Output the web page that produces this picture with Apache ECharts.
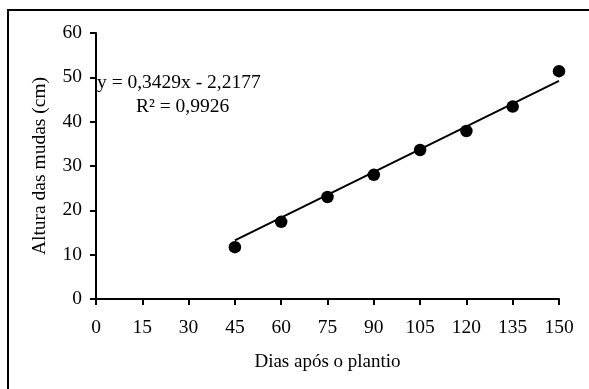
<!DOCTYPE html>
<html>
<head>
<meta charset="utf-8">
<script src="https://cdn.jsdelivr.net/npm/echarts@6/dist/echarts.min.js"></script>
<style>
html,body{margin:0;padding:0;background:#fff;}
#c{width:589px;height:389px;}
</style>
</head>
<body>
<div id="c"></div>
<script>
// Data
const days = [45, 60, 75, 90, 105, 120, 135, 150];
const heights = [11.7, 17.4, 23.0, 28.0, 33.6, 37.9, 43.4, 51.4];
const trendX = [45, 150];
const trendY = [13.21, 49.22];
const xTicks = [0, 15, 30, 45, 60, 75, 90, 105, 120, 135, 150];
const yTicks = [0, 10, 20, 30, 40, 50, 60];
const equationText = 'y = 0,3429x - 2,2177';
const r2Text = 'R² = 0,9926';

const FONT = '"Liberation Serif", "Times New Roman", serif';
const chart = echarts.init(document.getElementById('c'), null, {renderer: 'canvas'});
chart.setOption({
  backgroundColor: '#fff',
  animation: false,
  grid: {left: 96, right: 30, top: 33, bottom: 90},
  xAxis: {
    type: 'value', min: 0, max: 150, interval: 15,
    name: 'Dias após o plantio', nameLocation: 'middle', nameGap: 54,
    nameTextStyle: {fontFamily: FONT, fontSize: 19, color: '#000'},
    axisLine: {show: true, lineStyle: {color: '#000', width: 2}},
    axisTick: {show: true, inside: false, length: 6, lineStyle: {color: '#000', width: 2}},
    axisLabel: {fontFamily: FONT, fontSize: 19.5, color: '#000', margin: 19},
    splitLine: {show: false}
  },
  yAxis: {
    type: 'value', min: 0, max: 60, interval: 10,
    name: 'Altura das mudas (cm)', nameLocation: 'middle', nameGap: 46,
    nameTextStyle: {fontFamily: FONT, fontSize: 19.5, color: '#000'},
    axisLine: {show: true, lineStyle: {color: '#000', width: 2}},
    axisTick: {show: true, inside: false, length: 6, lineStyle: {color: '#000', width: 2}},
    axisLabel: {fontFamily: FONT, fontSize: 19.5, color: '#000', margin: 14},
    splitLine: {show: false}
  },
  graphic: [
    {type: 'rect', shape: {x: 8, y: 10, width: 620, height: 420},
     style: {fill: 'none', stroke: '#000', lineWidth: 2}, z: 100, silent: true},
    {type: 'text', x: 97, y: 82.5,
     style: {text: equationText, font: '19.5px ' + FONT, fill: '#000', verticalAlign: 'middle'}},
    {type: 'text', x: 136, y: 106.5,
     style: {text: r2Text, font: '19.5px ' + FONT, fill: '#000', verticalAlign: 'middle'}}
  ],
  series: [
    {type: 'line', data: trendX.map((x, i) => [x, trendY[i]]), symbol: 'none',
     lineStyle: {color: '#000', width: 2}, z: 2},
    {type: 'scatter', data: days.map((d, i) => [d, heights[i]]), symbol: 'circle',
     symbolSize: 12.5, itemStyle: {color: '#000', opacity: 1}, z: 3}
  ]
});
</script>
</body>
</html>
